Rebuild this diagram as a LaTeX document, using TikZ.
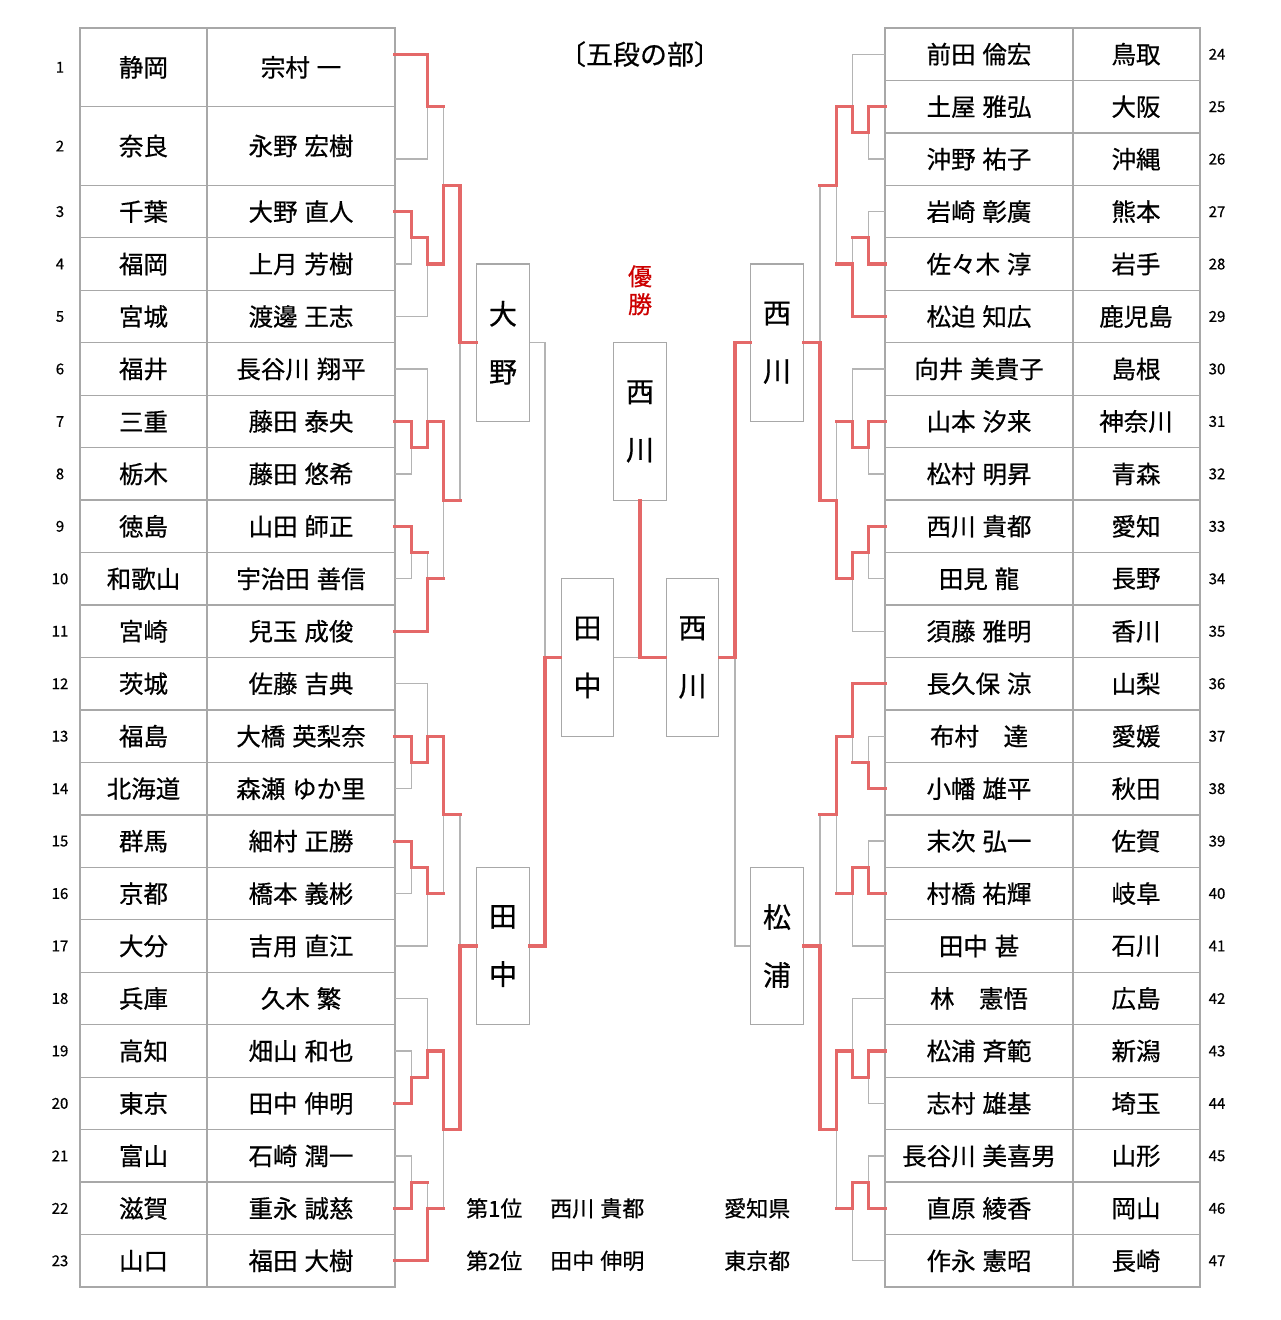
\documentclass[tikz,border=0pt]{standalone}
\usepackage{fontspec}
\setmainfont[WordSpace={1.25,0,0}, FakeBold=0.6]{Noto Sans CJK JP}

\definecolor{winred}{HTML}{E46868}
\definecolor{linegray}{HTML}{B4B4B4}
\definecolor{tablegray}{HTML}{A8A8A8}
\definecolor{titlered}{HTML}{CC0000}

% bracket columns (left / right)
\def\lxa{411.5}
\def\lxb{427.5}
\def\lxc{443.5}
\def\lxd{460}
\def\rxa{868.5}
\def\rxb{852.5}
\def\rxc{836.5}
\def\rxd{820}

\tikzset{
  gline/.style={draw=linegray, line width=1.3pt},
  rline/.style={draw=winred, line width=3.2pt, line cap=rect},
  tline/.style={draw=tablegray, line width=1.3pt},
  cell/.style={font=\fontsize{24.5}{28}\selectfont},
  rowno/.style={font=\fontsize{15}{18}\selectfont},
  result/.style={anchor=west, font=\fontsize{22}{25}\selectfont},
  vbox/.style={draw=tablegray, line width=1.2pt, fill=white, minimum width=52.5pt,
    minimum height=157.4pt, align=center, font=\fontsize{28}{58}\selectfont}
}

\begin{document}
\begin{tikzpicture}[x=1pt, y=-26.23pt, every node/.style={inner sep=0pt}]
  \useasboundingbox (0,-2.0664) rectangle (1280,48.257);

  % title
  \node[font=\fontsize{27}{30}\selectfont] (title) at (640,0) {〔五段の部〕};
  \node[text=titlered, align=center, font=\fontsize{24}{28}\selectfont] (yusho) at (640,9) {優\\勝};

  % left table
  \draw[tline] (80,-1) rectangle (395,47);
  \draw[tline] (207,-1) -- (207,47);
  \draw[tline] (80,2) -- (395,2);
  \foreach \h in {5,7,...,45} \draw[tline] (80,\h) -- (395,\h);

  \node[rowno] (lno1) at (60,0.5) {1};
  \node[cell] (lp1) at (143.5,0.5) {静岡};
  \node[cell] (ln1) at (301,0.5) {宗村 一};
  \node[rowno] (lno2) at (60,3.5) {2};
  \node[cell] (lp2) at (143.5,3.5) {奈良};
  \node[cell] (ln2) at (301,3.5) {永野 宏樹};
  \coordinate (L1) at (395,0);
  \coordinate (L2) at (395,4);
  \foreach \r/\p/\n in {3/千葉/大野 直人, 4/福岡/上月 芳樹, 5/宮城/渡邊 王志,
      6/福井/長谷川 翔平, 7/三重/藤田 泰央, 8/栃木/藤田 悠希, 9/徳島/山田 師正,
      10/和歌山/宇治田 善信, 11/宮崎/兒玉 成俊, 12/茨城/佐藤 吉典,
      13/福島/大橋 英梨奈, 14/北海道/森瀬 ゆか里, 15/群馬/細村 正勝,
      16/京都/橋本 義彬, 17/大分/吉用 直江, 18/兵庫/久木 繁, 19/高知/畑山 和也,
      20/東京/田中 伸明, 21/富山/石崎 潤一, 22/滋賀/重永 誠慈, 23/山口/福田 大樹}{
    \node[rowno] (lno\r) at (60,2*\r) {\r};
    \node[cell] (lp\r) at (143.5,2*\r) {\p};
    \node[cell] (ln\r) at (301,2*\r) {\n};
    \coordinate (L\r) at (395,2*\r);
  }

  % right table
  \draw[tline] (885,-1) rectangle (1200,47);
  \draw[tline] (1073,-1) -- (1073,47);
  \foreach \h in {1,3,...,45} \draw[tline] (885,\h) -- (1200,\h);
  \foreach \r/\n/\p in {24/前田 倫宏/鳥取, 25/土屋 雅弘/大阪, 26/沖野 祐子/沖縄,
      27/岩崎 彰廣/熊本, 28/佐々木 淳/岩手, 29/松迫 知広/鹿児島,
      30/向井 美貴子/島根, 31/山本 汐来/神奈川, 32/松村 明昇/青森,
      33/西川 貴都/愛知, 34/田見 龍/長野, 35/須藤 雅明/香川, 36/長久保 涼/山梨,
      37/布村　達/愛媛, 38/小幡 雄平/秋田, 39/末次 弘一/佐賀, 40/村橋 祐輝/岐阜,
      41/田中 甚/石川, 42/林　憲悟/広島, 43/松浦 斉範/新潟, 44/志村 雄基/埼玉,
      45/長谷川 美喜男/山形, 46/直原 綾香/岡山, 47/作永 憲昭/長崎}{
    \node[rowno] (rno\r) at (1217,2*\r-48) {\r};
    \node[cell] (rn\r) at (979,2*\r-48) {\n};
    \node[cell] (rp\r) at (1136,2*\r-48) {\p};
    \coordinate (R\r) at (885,2*\r-48);
  }

  % boxes
  \node[vbox] (ohno) at (503,11) {大\\野};
  \node[vbox] (tanakaL) at (503,34) {田\\中};
  \node[vbox] (tanakaM) at (587.5,23) {田\\中};
  \node[vbox] (champ) at (640,14) {西\\川};
  \node[vbox] (nishiM) at (692.5,23) {西\\川};
  \node[vbox] (nishiR) at (777,11) {西\\川};
  \node[vbox] (matsuura) at (777,34) {松\\浦};

  % results
  \node[result] (first) at (466,44) {第1位};
  \node[result] (firstn) at (550,44) {西川 貴都};
  \node[result] (firstp) at (724,44) {愛知県};
  \node[result] (second) at (466,46) {第2位};
  \node[result] (secondn) at (550,46) {田中 伸明};
  \node[result] (secondp) at (724,46) {東京都};

  % left bracket, gray
  \draw[gline] (L2) -| (\lxb,2);
  \draw[gline] (L4) -| (\lxa,7);
  \draw[gline] (L5) -| (\lxb,8);
  \draw[gline] (\lxc,2) -- (\lxc,5);
  \draw[gline] (L6) -| (\lxb,14);
  \draw[gline] (L8) -| (\lxa,15);
  \draw[gline] (L10) -| (\lxa,19);
  \draw[gline] (\lxb,19) -- (\lxb,20);
  \draw[gline] (\lxc,20) -- (\lxc,17);
  \draw[gline] (\lxd,17) -- (\lxd,11);
  \draw[gline] (L12) -| (\lxb,26);
  \draw[gline] (L14) -| (\lxa,27);
  \draw[gline] (L16) -| (\lxa,31);
  \draw[gline] (L17) -| (\lxb,32);
  \draw[gline] (\lxc,32) -- (\lxc,29);
  \draw[gline] (L18) -| (\lxb,38);
  \draw[gline] (L19) -| (\lxa,39);
  \draw[gline] (L21) -| (\lxa,43);
  \draw[gline] (\lxb,43) -- (\lxb,44);
  \draw[gline] (\lxc,44) -- (\lxc,41);
  \draw[gline] (\lxd,29) -- (\lxd,34);
  \draw[gline] (ohno.east) -| (545,23);

  % right bracket, gray
  \draw[gline] (R24) -| (\rxb,2);
  \draw[gline] (R26) -| (\rxa,3);
  \draw[gline] (R27) -| (\rxa,7);
  \draw[gline] (\rxb,7) -- (\rxb,8);
  \draw[gline] (\rxc,8) -- (\rxc,5);
  \draw[gline] (\rxd,5) -- (\rxd,11);
  \draw[gline] (R30) -| (\rxb,14);
  \draw[gline] (R32) -| (\rxa,15);
  \draw[gline] (R34) -| (\rxa,19);
  \draw[gline] (R35) -| (\rxb,20);
  \draw[gline] (\rxc,14) -- (\rxc,17);
  \draw[gline] (R37) -| (\rxa,27);
  \draw[gline] (\rxb,27) -- (\rxb,26);
  \draw[gline] (R39) -| (\rxa,31);
  \draw[gline] (R41) -| (\rxb,32);
  \draw[gline] (\rxc,32) -- (\rxc,29);
  \draw[gline] (\rxd,29) -- (\rxd,34);
  \draw[gline] (R42) -| (\rxb,38);
  \draw[gline] (R44) -| (\rxa,39);
  \draw[gline] (R45) -| (\rxa,43);
  \draw[gline] (R47) -| (\rxb,44);
  \draw[gline] (\rxc,44) -- (\rxc,41);
  \draw[gline] (matsuura.west) -| (735,23);

  % final
  \draw[gline] (tanakaM.east) -- (640,23);

  % left bracket, winners
  \draw[rline] (L1) -| (\lxb,2) -- (\lxc,2);
  \draw[rline] (L3) -| (\lxa,7) -| (\lxb,8) -- (\lxc,8) -- (\lxc,5) -- (\lxd,5) -- (\lxd,11) -- (ohno.west);
  \draw[rline] (L7) -| (\lxa,15) -| (\lxb,14) -- (\lxc,14) -- (\lxc,17) -- (\lxd,17);
  \draw[rline] (L9) -| (\lxa,19) -- (\lxb,19);
  \draw[rline] (L11) -| (\lxb,20) -- (\lxc,20);
  \draw[rline] (L13) -| (\lxa,27) -| (\lxb,26) -- (\lxc,26) -- (\lxc,29) -- (\lxd,29);
  \draw[rline] (L15) -| (\lxa,31) -| (\lxb,32) -- (\lxc,32);
  \draw[rline] (L20) -| (\lxa,39) -| (\lxb,38) -- (\lxc,38) -- (\lxc,41) -- (\lxd,41) -- (\lxd,34) -- (tanakaL.west);
  \draw[rline] (L22) -| (\lxa,43) -- (\lxb,43);
  \draw[rline] (L23) -| (\lxb,44) -- (\lxc,44);
  \draw[rline] (tanakaL.east) -| (545,23) -- (tanakaM.west);

  % right bracket, winners
  \draw[rline] (R25) -| (\rxa,3) -| (\rxb,2) -- (\rxc,2) -- (\rxc,5) -- (\rxd,5);
  \draw[rline] (R28) -| (\rxa,7) -- (\rxb,7);
  \draw[rline] (R29) -| (\rxb,8) -- (\rxc,8);
  \draw[rline] (R31) -| (\rxa,15) -| (\rxb,14) -- (\rxc,14);
  \draw[rline] (R33) -| (\rxa,19) -| (\rxb,20) -- (\rxc,20) -- (\rxc,17) -- (\rxd,17) -- (\rxd,11) -- (nishiR.east);
  \draw[rline] (R36) -| (\rxb,26) -- (\rxc,26) -- (\rxc,29) -- (\rxd,29);
  \draw[rline] (R38) -| (\rxa,27) -- (\rxb,27);
  \draw[rline] (R40) -| (\rxa,31) -| (\rxb,32) -- (\rxc,32);
  \draw[rline] (R43) -| (\rxa,39) -| (\rxb,38) -- (\rxc,38) -- (\rxc,41) -- (\rxd,41) -- (\rxd,34) -- (matsuura.east);
  \draw[rline] (R46) -| (\rxa,43) -| (\rxb,44) -- (\rxc,44);
  \draw[rline] (nishiR.west) -| (735,23) -- (nishiM.east);

  % final, winner
  \draw[rline] (nishiM.west) -| (champ.south);
\end{tikzpicture}
\end{document}
